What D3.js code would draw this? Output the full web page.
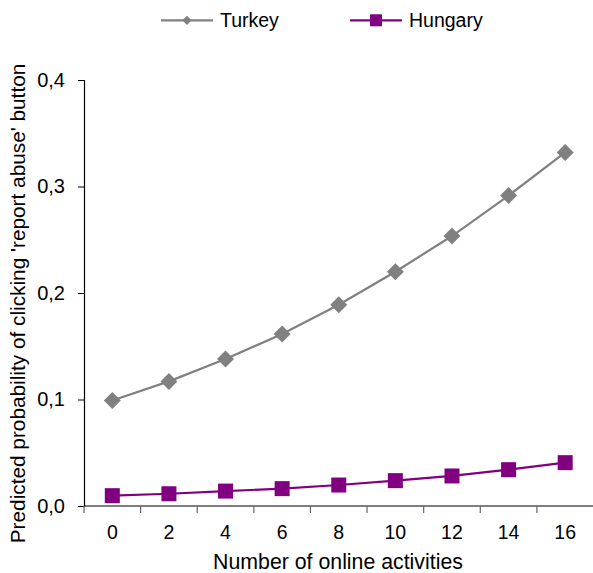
<!DOCTYPE html>
<html><head><meta charset="utf-8">
<script src="https://cdn.jsdelivr.net/npm/d3@7"></script>
<style>body{margin:0;background:#fff}svg{display:block;font-family:"Liberation Sans",Arial,sans-serif}</style>
</head><body>
<svg id="c" width="593" height="573"></svg>
<script>
const categories = [0, 2, 4, 6, 8, 10, 12, 14, 16];
const turkey = [0.099, 0.117, 0.138, 0.1615, 0.189, 0.220, 0.2535, 0.2915, 0.332];
const hungary = [0.0097, 0.0115, 0.014, 0.0163, 0.0197, 0.0238, 0.0282, 0.0341, 0.0407];
const yTicks = [0, 0.1, 0.2, 0.3, 0.4];
const seriesNames = ["Turkey", "Hungary"];
const colors = ["#808080", "#800080"];

const svg = d3.select("#c");
const x = d3.scaleBand().domain(categories).range([84, 593.5]).padding(0);
const y = d3.scaleLinear().domain([0, 0.4]).range([506, 80]);

// Y axis
const yAxis = svg.append("g").attr("transform", "translate(84,0)")
  .call(d3.axisLeft(y).tickValues(yTicks).tickSize(6).tickPadding(13)
    .tickFormat(d => d3.format(".1f")(d).replace(".", ",")));
yAxis.select(".domain").attr("stroke", "#000").attr("stroke-width", 1.2);
yAxis.selectAll(".tick line").attr("stroke", "#000");
yAxis.selectAll("text").attr("font-size", 20).attr("fill", "#000").attr("font-family", "Liberation Sans, Arial, sans-serif");

// X axis
const xAxisG = svg.append("g").attr("transform", "translate(0,506)");
xAxisG.append("line").attr("x1", 84).attr("x2", 593.5).attr("y1", 0).attr("y2", 0)
  .attr("stroke", "#000").attr("stroke-width", 1.2);
const bounds = categories.slice(1).map(c => x(c));
xAxisG.selectAll(".bt").data([84].concat(bounds)).enter().append("line")
  .attr("x1", d => d).attr("x2", d => d).attr("y1", 0).attr("y2", 7)
  .attr("stroke", "#666").attr("stroke-width", 1.2);
xAxisG.selectAll(".xl").data(categories).enter().append("text")
  .attr("x", d => x(d) + x.bandwidth() / 2).attr("y", 32.5)
  .attr("text-anchor", "middle").attr("font-size", 19.5).attr("fill", "#000")
  .text(d => d);

// Titles
svg.append("text").attr("x", 338).attr("y", 568.5).attr("text-anchor", "middle")
  .attr("font-size", 21.3).attr("fill", "#000").text("Number of online activities");
svg.append("text").attr("transform", "translate(25,303.5) rotate(-90)").attr("text-anchor", "middle")
  .attr("font-size", 20.8).attr("fill", "#000").text("Predicted probability of clicking 'report abuse' button");

const cx = d => x(d) + x.bandwidth() / 2;
const line = d3.line().x((d, i) => cx(categories[i])).y(d => y(d));

// Turkey
svg.append("path").datum(turkey).attr("d", line).attr("fill", "none")
  .attr("stroke", colors[0]).attr("stroke-width", 2.2);
svg.selectAll(".tm").data(turkey).enter().append("path")
  .attr("transform", (d, i) => `translate(${cx(categories[i])},${y(d)}) rotate(45)`)
  .attr("d", "M-6,-6H6V6H-6Z").attr("fill", colors[0]);

// Hungary
svg.append("path").datum(hungary).attr("d", line).attr("fill", "none")
  .attr("stroke", colors[1]).attr("stroke-width", 2.2);
svg.selectAll(".hm").data(hungary).enter().append("rect")
  .attr("x", (d, i) => cx(categories[i]) - 7.5).attr("y", d => y(d) - 7.5)
  .attr("width", 15).attr("height", 15).attr("fill", colors[1]);

// Legend
const leg = [{x: 161, tx: 220}, {x: 350, tx: 409}];
seriesNames.forEach((n, i) => {
  const g = svg.append("g");
  g.append("line").attr("x1", leg[i].x).attr("x2", leg[i].x + 52).attr("y1", 20.3).attr("y2", 20.3)
    .attr("stroke", colors[i]).attr("stroke-width", 2.2);
  const mx = leg[i].x + 26;
  if (i === 0) {
    g.append("path").attr("transform", `translate(${mx},20.3) rotate(45)`).attr("d", "M-3.3,-3.3H3.3V3.3H-3.3Z").attr("fill", colors[0]);
  } else {
    g.append("rect").attr("x", mx - 6).attr("y", 14.3).attr("width", 12).attr("height", 12).attr("fill", colors[1]);
  }
  g.append("text").attr("x", leg[i].tx).attr("y", 27.3).attr("font-size", 19.5).attr("fill", "#000").text(n);
});
</script>
</body></html>
